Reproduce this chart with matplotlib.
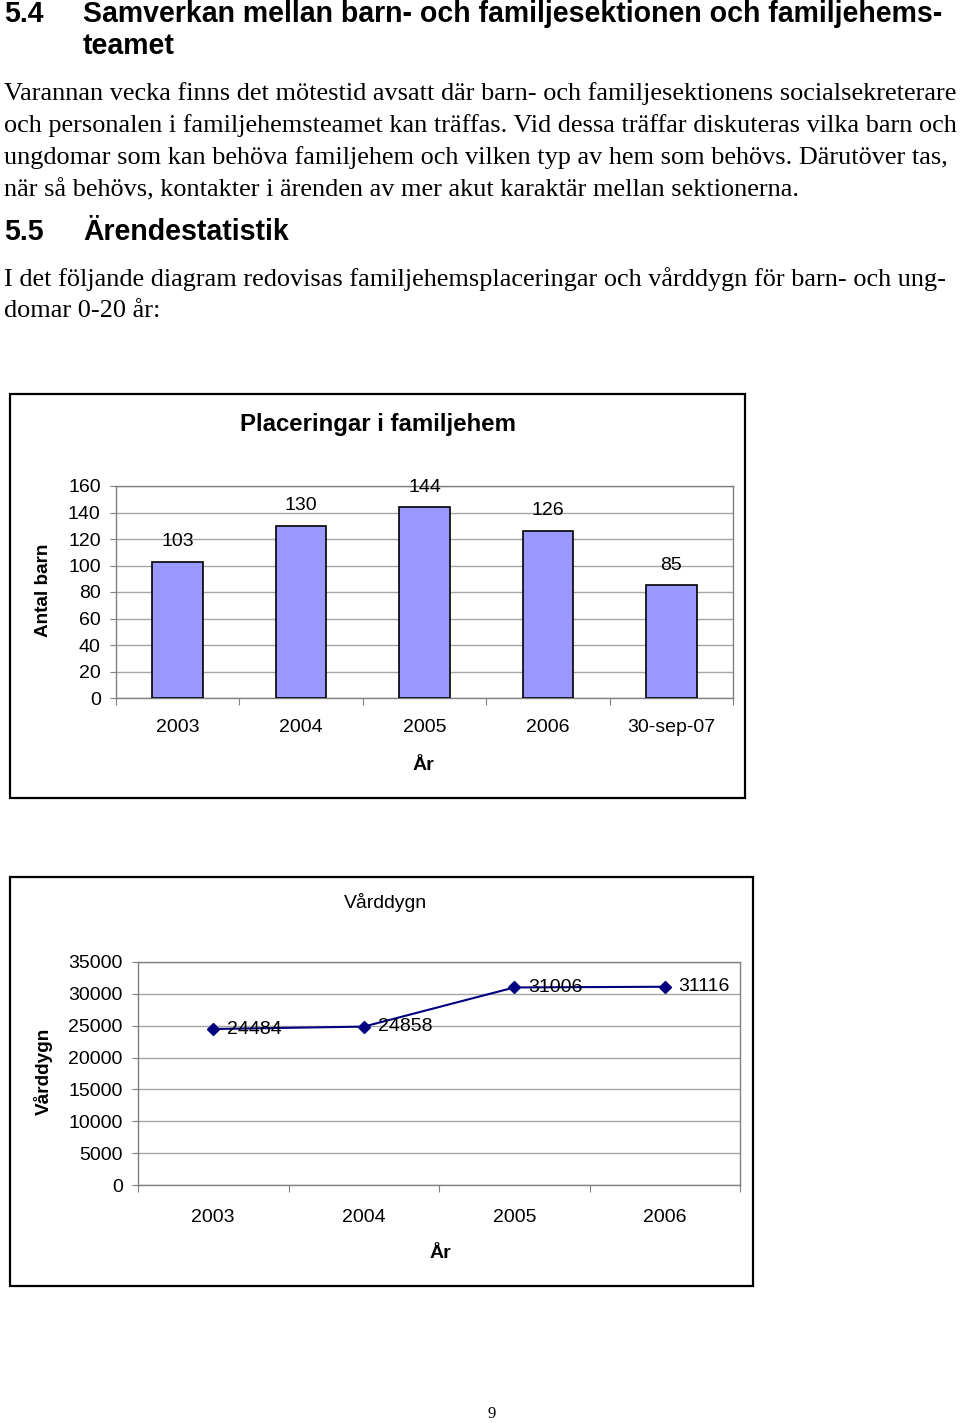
"""
Rebuild of a report page (section 5.4 / 5.5) with two small charts:
placements in foster homes (bars) and care days (line).
"""

import matplotlib

matplotlib.use("Agg")
import matplotlib.pyplot as plt
from matplotlib.patches import Rectangle


# --- data -------------------------------------------------------------
bar_categories = ["2003", "2004", "2005", "2006", "30-sep-07"]
placeringar = [103, 130, 144, 126, 85]
placering_ticks = [0, 20, 40, 60, 80, 100, 120, 140, 160]

line_categories = ["2003", "2004", "2005", "2006"]
varddygn = [24484, 24858, 31006, 31116]
varddygn_ticks = [0, 5000, 10000, 15000, 20000, 25000, 30000, 35000]

heading_54 = ["Samverkan mellan barn- och familjesektionen och familjehems-", "teamet"]
body_54 = [
    "Varannan vecka finns det mötestid avsatt där barn- och familjesektionens socialsekreterare",
    "och personalen i familjehemsteamet kan träffas. Vid dessa träffar diskuteras vilka barn och",
    "ungdomar som kan behöva familjehem och vilken typ av hem som behövs. Därutöver tas,",
    "när så behövs, kontakter i ärenden av mer akut karaktär mellan sektionerna.",
]
heading_55 = "Ärendestatistik"
body_55 = [
    "I det följande diagram redovisas familjehemsplaceringar och vårddygn för barn- och ung-",
    "domar 0-20 år:",
]

W, H = 960, 1423
SERIF = "Liberation Serif"
SANS = "Liberation Sans"
GRID = "#a6a6a6"
SPINE = "#808080"
TICK_SIZE = 14

fig = plt.figure(figsize=(W / 100, H / 100), dpi=100)
renderer = fig.canvas.get_renderer()


def fx(x):
    return x / W


def fy(y):
    return 1 - y / H


def put_text(x, y, s, size, width=None, **kw):
    """Place text at page pixel coords; optionally scale it to a pixel width."""
    t = fig.text(fx(x), fy(y), s, fontsize=size, **kw)
    if width is not None:
        bb = t.get_window_extent(renderer=renderer)
        t.set_fontsize(size * width / max(bb.width, bb.height))
    return t


# --- page text ---------------------------------------------------------
head_size = put_text(83, 22, heading_54[0], 20, width=859,
                     family=SANS, weight="bold", va="baseline").get_fontsize()
put_text(4, 22, "5.4", head_size, family=SANS, weight="bold", va="baseline")
put_text(83, 54, heading_54[1], head_size, family=SANS, weight="bold", va="baseline")

# size the body font so the widest line still fits the text column
body_lines = []
for i, line in enumerate(body_54):
    body_lines.append(put_text(4, 100 + 32 * i, line, 18, family=SERIF, va="baseline"))
first = body_lines[0].get_window_extent(renderer=renderer).width
last = body_lines[3].get_window_extent(renderer=renderer).width
body_size = 18 * min(952 / first, 796 / last)
for t in body_lines:
    t.set_fontsize(body_size)

put_text(4, 240, "5.5", head_size, family=SANS, weight="bold", va="baseline")
put_text(83, 240, heading_55, head_size, family=SANS, weight="bold", va="baseline")
for i, line in enumerate(body_55):
    put_text(4, 286 + 31 * i, line, body_size, family=SERIF, va="baseline")

put_text(492, 1414, "9", 12, family=SERIF, ha="center", va="center")

# chart frames
for x0, y0, x1, y1 in [(10, 394, 745, 798), (10, 877, 753, 1286)]:
    fig.patches.append(Rectangle((fx(x0), fy(y1)), (x1 - x0) / W, (y1 - y0) / H,
                                 transform=fig.transFigure, fill=False,
                                 edgecolor="black", linewidth=1.6))


def style_axes(ax, n, ticks, pad_x):
    ax.set_xlim(-0.5, n - 0.5)
    ax.set_ylim(ticks[0], ticks[-1])
    ax.set_yticks(ticks)
    ax.yaxis.grid(True, color=GRID, linewidth=1)
    ax.set_axisbelow(True)
    ax.set_xticks([i - 0.5 for i in range(n + 1)])
    ax.set_xticklabels([])
    ax.set_xticks(range(n), minor=True)
    for side in ax.spines.values():
        side.set_color(SPINE)
        side.set_linewidth(1)
    ax.tick_params(axis="x", which="major", length=5, color=SPINE)
    ax.tick_params(axis="x", which="minor", length=0, pad=pad_x, labelsize=TICK_SIZE)
    ax.tick_params(axis="y", length=4, color=SPINE, pad=7, labelsize=TICK_SIZE)
    for lab in ax.get_xticklabels(minor=True) + ax.get_yticklabels():
        lab.set_family(SANS)


# --- chart 1: placements -------------------------------------------------
ax1 = fig.add_axes([fx(116), fy(698), (733 - 116) / W, (698 - 486) / H])
ax1.bar(range(len(placeringar)), placeringar, width=0.41, color="#9999ff",
        edgecolor="black", linewidth=1.2, zorder=3)
style_axes(ax1, len(bar_categories), placering_ticks, 15)
ax1.set_xticklabels(bar_categories, minor=True, family=SANS)
for i, v in enumerate(placeringar):
    ax1.annotate(str(v), (i, v), xytext=(0, 14.5), textcoords="offset points",
                 ha="center", va="center", fontsize=TICK_SIZE, family=SANS)

put_text(378, 425, "Placeringar i familjehem", 17, width=276, family=SANS,
         weight="bold", ha="center", va="center")
put_text(43, 590, "Antal barn", 14, width=94, family=SANS, weight="bold",
         rotation=90, ha="center", va="center")
put_text(423, 765, "År", 14, family=SANS, weight="bold", ha="center", va="center")

# --- chart 2: care days -------------------------------------------------
ax2 = fig.add_axes([fx(138), fy(1185), (740 - 138) / W, (1185 - 962) / H])
ax2.plot(range(len(varddygn)), varddygn, color="#000080", linewidth=1.5,
         marker="D", markersize=6.5, zorder=3)
style_axes(ax2, len(line_categories), varddygn_ticks, 17)
ax2.set_xticklabels(line_categories, minor=True, family=SANS)
for i, v in enumerate(varddygn):
    ax2.annotate(str(v), (i, v), xytext=(10, 0), textcoords="offset points",
                 ha="left", va="center", fontsize=TICK_SIZE, family=SANS)

put_text(385, 903, "Vårddygn", 14, width=84, family=SANS, ha="center", va="center")
put_text(43, 1071, "Vårddygn", 14, width=88, family=SANS, weight="bold",
         rotation=90, ha="center", va="center")
put_text(440, 1253, "År", 14, family=SANS, weight="bold", ha="center", va="center")

fig.savefig("out.png", dpi=100)
